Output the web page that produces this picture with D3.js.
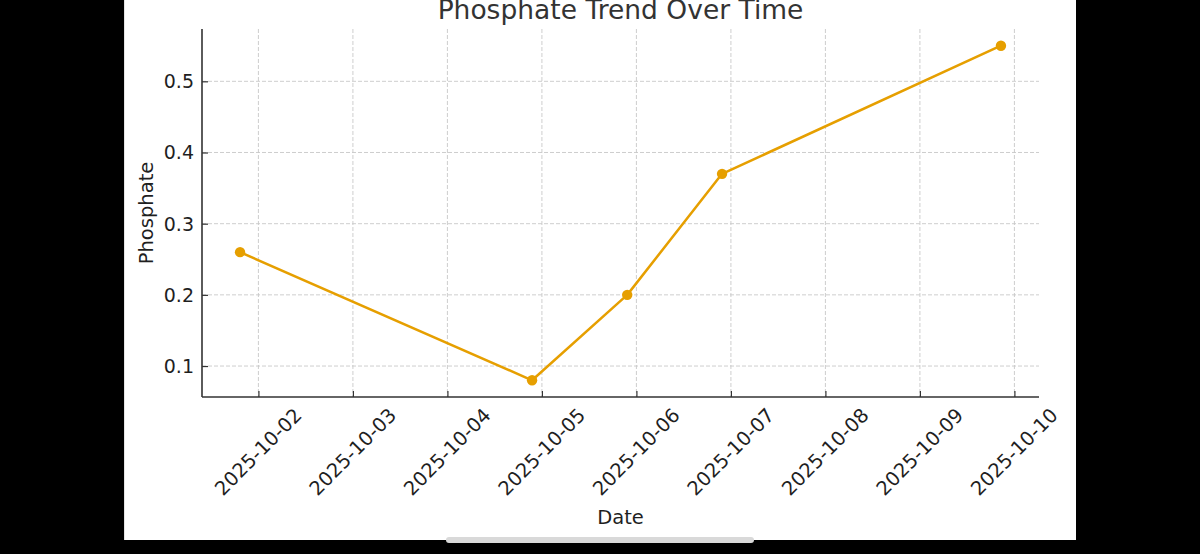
<html lang="en">
  <head>
    <meta charset="UTF-8" />
    <title>Phosphate Trend Over Time</title>
    <script src="https://d3js.org/d3.v7.min.js"></script>
    <style>
      body {
        margin: 0;
        padding: 0;
        background-color: #000;
        font-family: "DejaVu Sans", sans-serif;
      }
      svg {
        display: block;
      }
      .grid line {
        stroke: #c8c8c8;
        stroke-width: 0.9;
        stroke-dasharray: 4, 2;
      }
      text {
        fill: #1f1f1f;
      }
    </style>
  </head>
  <body>
    <script>
      const w = 1200;
      const h = 554;

      // data
      const dates = [
        "2025-10-01T19:20:00Z",
        "2025-10-04T21:30:00Z",
        "2025-10-05T21:40:00Z",
        "2025-10-06T21:45:00Z",
        "2025-10-09T20:35:00Z",
      ];
      const phosphate = [0.26, 0.08, 0.2, 0.37, 0.55];
      const xTickLabels = [
        "2025-10-02",
        "2025-10-03",
        "2025-10-04",
        "2025-10-05",
        "2025-10-06",
        "2025-10-07",
        "2025-10-08",
        "2025-10-09",
        "2025-10-10",
      ];
      const yTicks = [0.1, 0.2, 0.3, 0.4, 0.5];

      const plot = { left: 202, right: 1039, top: 29, bottom: 397 };

      const data = dates.map((d, i) => ({ date: new Date(d), value: phosphate[i] }));

      const svg = d3.select("body").append("svg").attr("width", w).attr("height", h);

      // page frame
      svg.append("rect").attr("width", w).attr("height", h).attr("fill", "#000");
      svg.append("rect").attr("x", 124).attr("y", 0).attr("width", 952).attr("height", 540).attr("fill", "#fff");
      svg.append("line").attr("x1", 124.5).attr("x2", 124.5).attr("y1", 0).attr("y2", 540)
        .attr("stroke", "#e4e4e4").attr("stroke-width", 1);
      svg.append("rect").attr("x", 446).attr("y", 537).attr("width", 308).attr("height", 6)
        .attr("rx", 3).attr("fill", "#d9d9d9");

      // matplotlib-like 5% margins
      const xExt = d3.extent(data, (d) => d.date.getTime());
      const xPad = (xExt[1] - xExt[0]) * 0.05;
      const yExt = d3.extent(data, (d) => d.value);
      const yPad = (yExt[1] - yExt[0]) * 0.05;

      const xScale = d3.scaleUtc()
        .domain([new Date(xExt[0] - xPad), new Date(xExt[1] + xPad)])
        .range([plot.left, plot.right]);
      const yScale = d3.scaleLinear()
        .domain([yExt[0] - yPad, yExt[1] + yPad])
        .range([plot.bottom, plot.top]);

      const xTicks = xTickLabels.map((s) => new Date(s + "T00:00:00Z"));

      // grid
      const grid = svg.append("g").attr("class", "grid");
      grid.selectAll(".vx").data(xTicks).enter().append("line")
        .attr("x1", (d) => xScale(d)).attr("x2", (d) => xScale(d))
        .attr("y1", plot.top).attr("y2", plot.bottom);
      grid.selectAll(".hy").data(yTicks).enter().append("line")
        .attr("x1", plot.left).attr("x2", plot.right)
        .attr("y1", (d) => yScale(d)).attr("y2", (d) => yScale(d));

      // axes
      const xAxis = d3.axisBottom(xScale).tickValues(xTicks).tickSize(-6).tickFormat("");
      const yAxis = d3.axisLeft(yScale).tickValues(yTicks).tickSize(-6).tickFormat("");

      const gx = svg.append("g").attr("transform", `translate(0, ${plot.bottom})`).call(xAxis);
      const gy = svg.append("g").attr("transform", `translate(${plot.left}, 0)`).call(yAxis);
      [gx, gy].forEach((g) => {
        g.select(".domain").attr("stroke", "#333").attr("stroke-width", 1.6);
        g.selectAll(".tick line").attr("stroke", "#333").attr("stroke-width", 1.2);
      });
      gx.select(".domain").attr("d", `M${plot.left},0H${plot.right}`);
      gy.select(".domain").attr("d", `M0,${plot.bottom}V${plot.top}`);

      // tick labels
      svg.append("g").selectAll("text").data(xTicks).enter().append("text")
        .attr("transform", (d) => `translate(${xScale(d)}, 452) rotate(-45)`)
        .attr("text-anchor", "middle")
        .attr("dominant-baseline", "central")
        .style("font-size", "19.5px")
        .text((d, i) => xTickLabels[i]);

      svg.append("g").selectAll("text").data(yTicks).enter().append("text")
        .attr("x", plot.left - 8)
        .attr("y", (d) => yScale(d))
        .attr("text-anchor", "end")
        .attr("dominant-baseline", "central")
        .style("font-size", "19px")
        .text((d) => d3.format(".1f")(d));

      // line + markers
      const line = d3.line().x((d) => xScale(d.date)).y((d) => yScale(d.value));
      svg.append("path").datum(data)
        .attr("d", line)
        .attr("fill", "none")
        .attr("stroke", "#E69F00")
        .attr("stroke-width", 2.5)
        .attr("stroke-linejoin", "round");
      svg.append("g").selectAll("circle").data(data).enter().append("circle")
        .attr("cx", (d) => xScale(d.date))
        .attr("cy", (d) => yScale(d.value))
        .attr("r", 5.2)
        .attr("fill", "#E69F00");

      // titles
      const cx = (plot.left + plot.right) / 2;
      svg.append("text").attr("x", cx).attr("y", 19)
        .attr("text-anchor", "middle").style("font-size", "26.5px").style("fill", "#333")
        .text("Phosphate Trend Over Time");
      svg.append("text").attr("x", cx).attr("y", 524)
        .attr("text-anchor", "middle").style("font-size", "19.5px")
        .text("Date");
      svg.append("text")
        .attr("transform", `translate(153, ${(plot.top + plot.bottom) / 2}) rotate(-90)`)
        .attr("text-anchor", "middle").style("font-size", "19.5px")
        .text("Phosphate");
    </script>
  </body>
</html>
